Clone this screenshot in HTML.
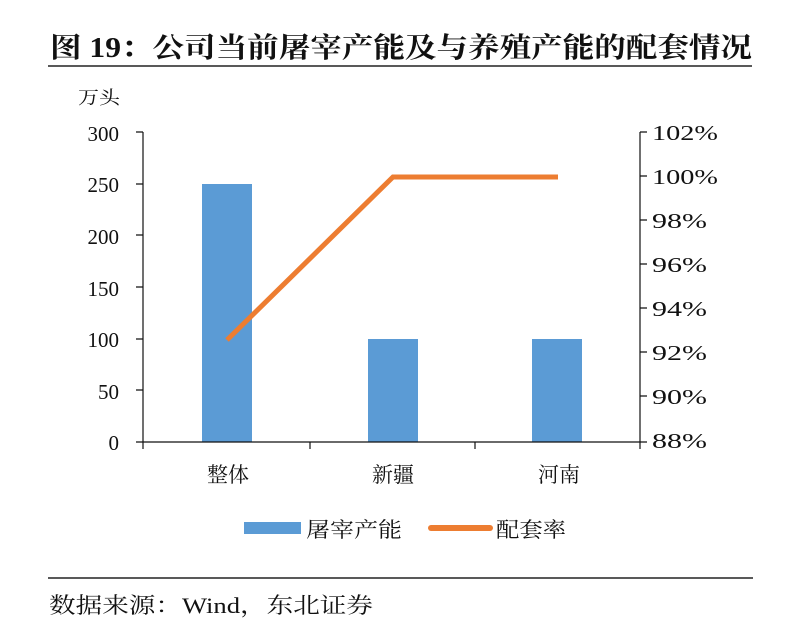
<!DOCTYPE html>
<html><head><meta charset="utf-8"><style>
body{margin:0;background:#fff;}
svg{display:block;}
text{font-family:"Liberation Serif","Noto Serif CJK SC",serif;fill:#111;}
</style></head><body>
<svg width="800" height="636" viewBox="0 0 800 636">
<text x="50" y="57" font-size="28" font-weight="bold" textLength="702" lengthAdjust="spacingAndGlyphs">图 19：公司当前屠宰产能及与养殖产能的配套情况</text>
<line x1="48" y1="66" x2="752" y2="66" stroke="#222" stroke-width="1.5"/>
<text x="78" y="104" font-size="18" textLength="42" lengthAdjust="spacingAndGlyphs">万头</text>
<g font-size="21" text-anchor="end">
<text x="119" y="141">300</text><text x="119" y="192">250</text><text x="119" y="244">200</text><text x="119" y="296">150</text><text x="119" y="347">100</text><text x="119" y="399">50</text><text x="119" y="450">0</text>
</g>
<g font-size="21">
<text x="652" y="140" textLength="66" lengthAdjust="spacingAndGlyphs">102%</text><text x="652" y="184" textLength="66" lengthAdjust="spacingAndGlyphs">100%</text><text x="652" y="228" textLength="55" lengthAdjust="spacingAndGlyphs">98%</text><text x="652" y="272" textLength="55" lengthAdjust="spacingAndGlyphs">96%</text><text x="652" y="316" textLength="55" lengthAdjust="spacingAndGlyphs">94%</text><text x="652" y="360" textLength="55" lengthAdjust="spacingAndGlyphs">92%</text><text x="652" y="404" textLength="55" lengthAdjust="spacingAndGlyphs">90%</text><text x="652" y="448" textLength="55" lengthAdjust="spacingAndGlyphs">88%</text>
</g>
<rect x="202" y="184" width="50" height="258" fill="#5B9BD5"/>
<rect x="368" y="339" width="50" height="103" fill="#5B9BD5"/>
<rect x="532" y="339" width="50" height="103" fill="#5B9BD5"/>
<g stroke="#111" stroke-width="1.2" fill="none">
<line x1="143" y1="132" x2="143" y2="442"/>
<line x1="640" y1="132" x2="640" y2="442"/>
<line x1="136" y1="442" x2="647" y2="442"/>
<path d="M136 132H143M136 184H143M136 235H143M136 287H143M136 339H143M136 390H143"/>
<path d="M640 132H647M640 176H647M640 220H647M640 264H647M640 308H647M640 352H647M640 396H647"/>
<path d="M143 442V449M310 442V449M475 442V449M640 442V449"/>
</g>
<polyline points="227,340 393,177 558,177" fill="none" stroke="#ED7D31" stroke-width="5"/>
<g font-size="21" text-anchor="middle">
<text x="228" y="482">整体</text><text x="393" y="482">新疆</text><text x="559" y="482">河南</text>
</g>
<rect x="244" y="522" width="57" height="12" fill="#5B9BD5"/>
<text x="306" y="537" font-size="21" textLength="96" lengthAdjust="spacingAndGlyphs">屠宰产能</text>
<line x1="431" y1="528" x2="490" y2="528" stroke="#ED7D31" stroke-width="6" stroke-linecap="round"/>
<text x="496" y="537" font-size="21" textLength="70" lengthAdjust="spacingAndGlyphs">配套率</text>
<line x1="48" y1="578" x2="753" y2="578" stroke="#222" stroke-width="1.5"/>
<text x="49" y="613" font-size="22" textLength="324" lengthAdjust="spacingAndGlyphs">数据来源：Wind，东北证券</text>
</svg>
</body></html>
